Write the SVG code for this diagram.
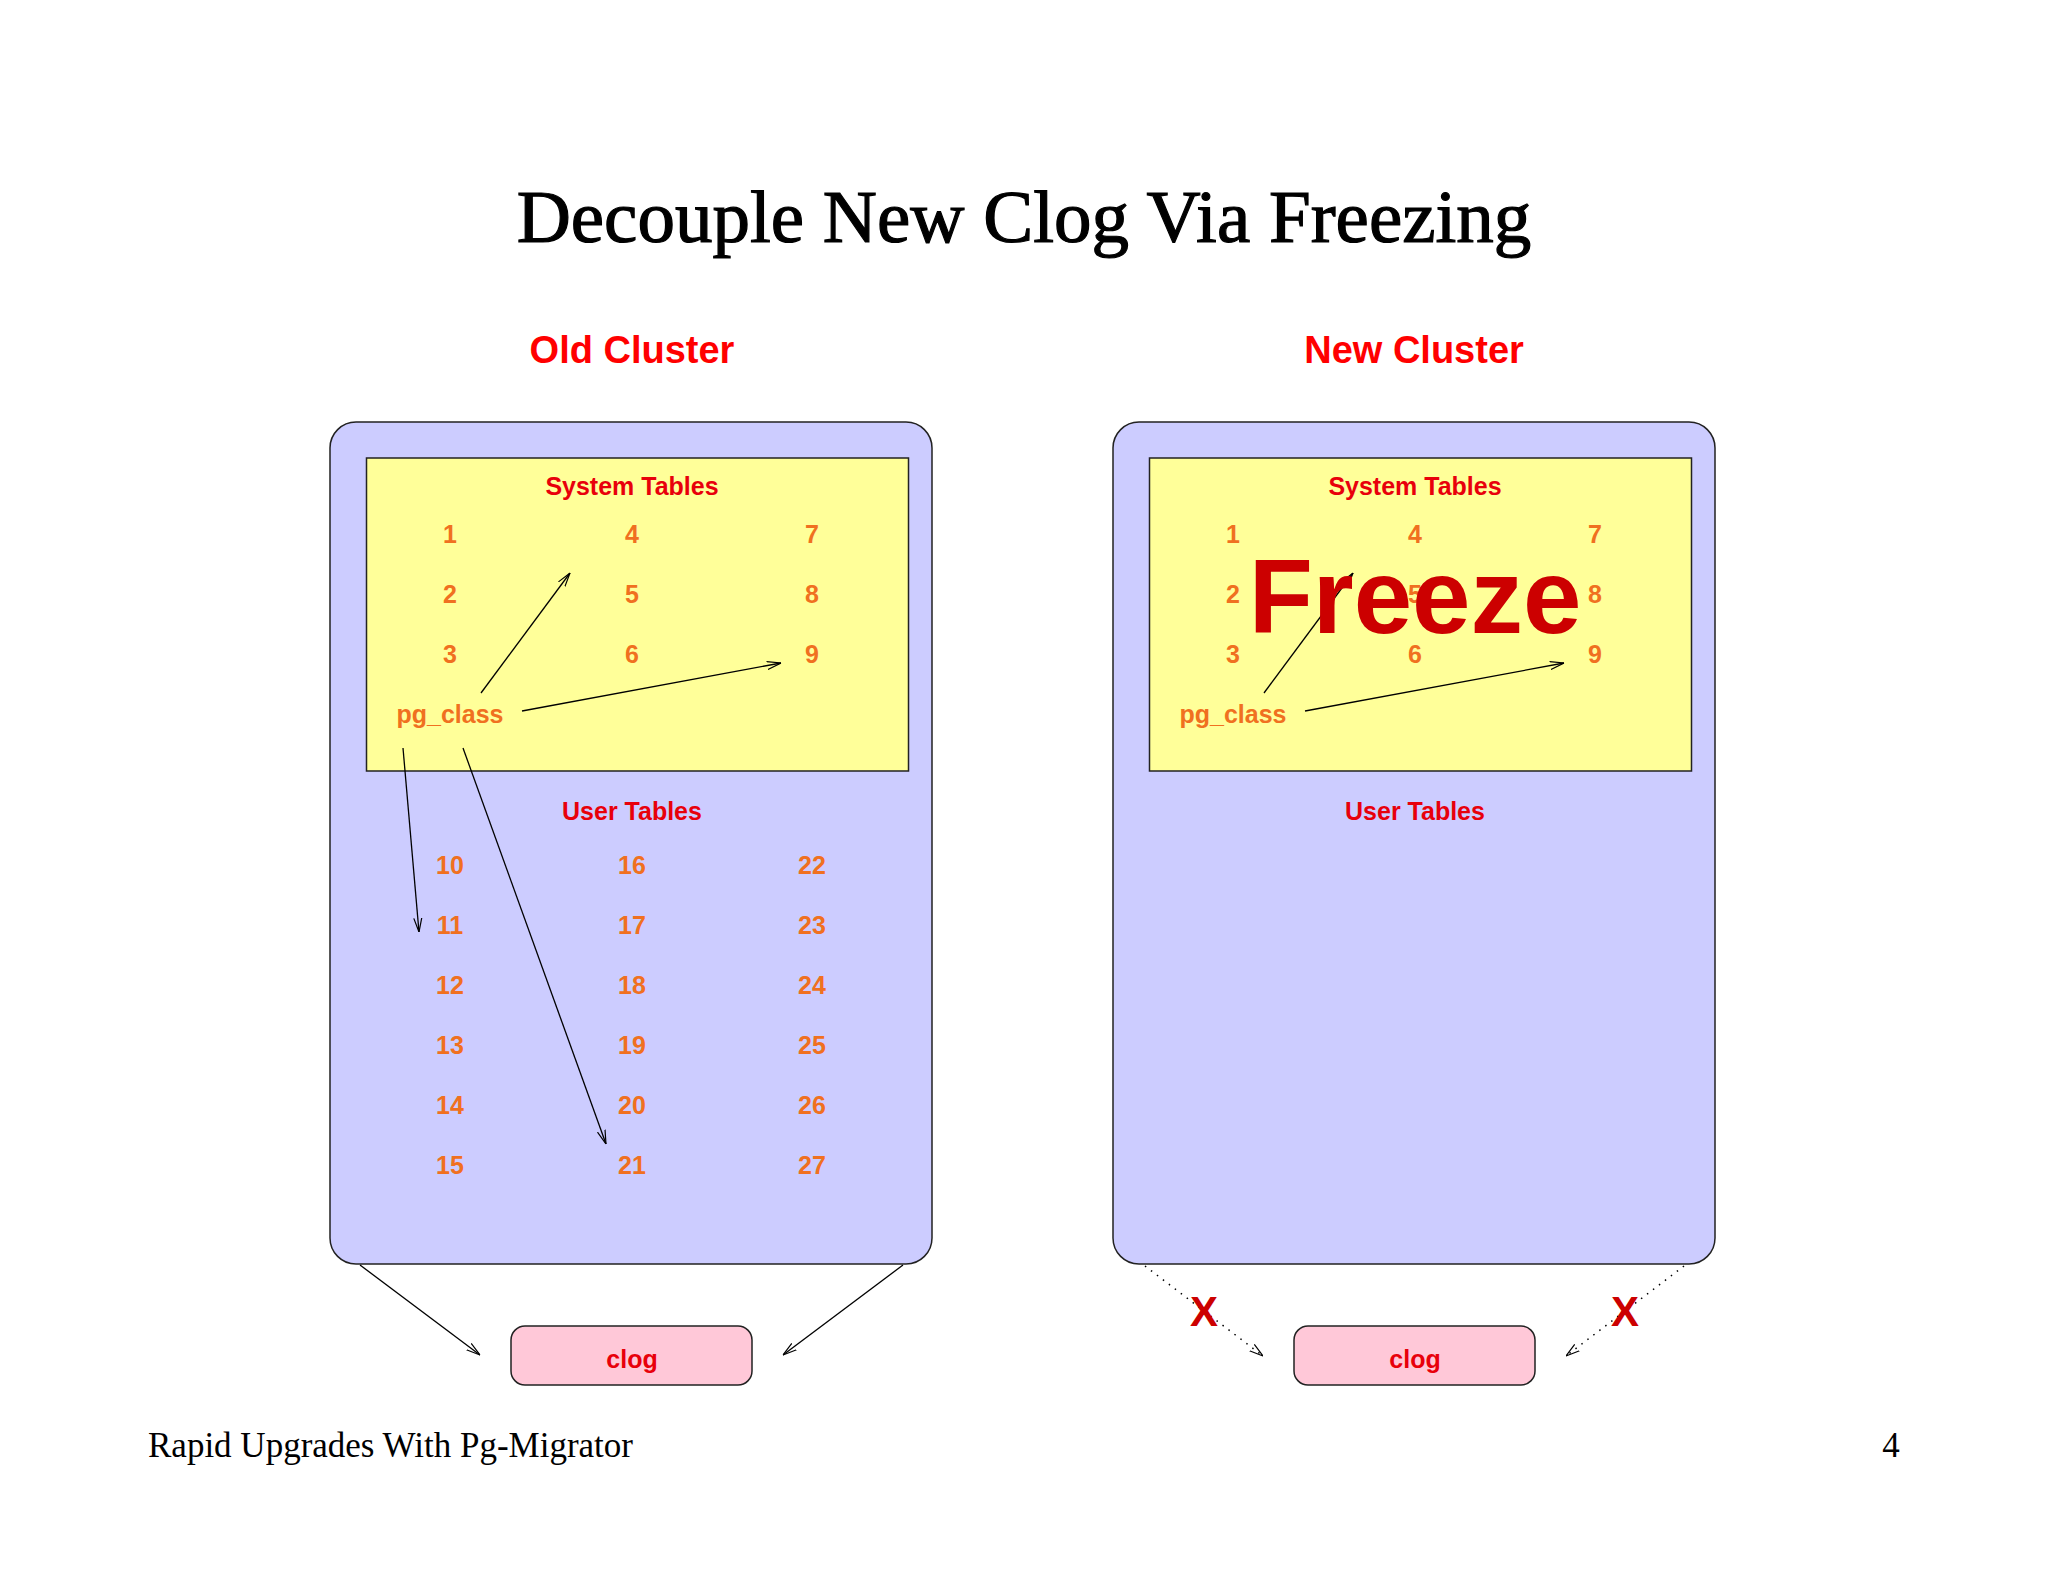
<svg xmlns="http://www.w3.org/2000/svg" width="2048" height="1582" viewBox="0 0 2048 1582">
<style>
.title{font-family:"Liberation Serif",serif;font-size:75px;fill:#000;stroke:#000;stroke-width:1.2;text-anchor:middle}
.foot{font-family:"Liberation Serif",serif;font-size:35px;fill:#000}
.cl{font-family:"Liberation Sans",Arial,sans-serif;font-weight:bold;font-size:38px;fill:#f00;text-anchor:middle}
.hd{font-family:"Liberation Sans",Arial,sans-serif;font-weight:bold;font-size:25px;fill:#e8000b;text-anchor:middle}
.n{font-family:"Liberation Sans",Arial,sans-serif;font-weight:bold;font-size:25px;fill:#f07020;text-anchor:middle}
.outer{fill:#ccccff;stroke:#222;stroke-width:1.5}
.sys{fill:#ffff99;stroke:#222;stroke-width:1.5}
.clog{fill:#ffc8d8;stroke:#222;stroke-width:1.5}
.ln{stroke:#000;stroke-width:1.3;fill:none}
.dot{stroke:#000;stroke-width:1.5;fill:none;stroke-dasharray:1.5,6}
.big{font-family:"Liberation Sans",Arial,sans-serif;font-weight:bold;fill:#cc0000;text-anchor:middle}
</style>
<defs>
<marker id="ah" viewBox="0 0 14 10" refX="14" refY="5" markerWidth="14" markerHeight="10" markerUnits="userSpaceOnUse" orient="auto">
<path d="M0,1 L14,5 L0,9" fill="none" stroke="#000" stroke-width="1.2"/>
</marker>
</defs>
<rect width="2048" height="1582" fill="#fff"/>
<text class="title" x="1024" y="242">Decouple New Clog Via Freezing</text>
<text class="cl" x="632" y="363">Old Cluster</text>
<text class="cl" x="1414" y="363">New Cluster</text>

<g id="old-cluster">
<rect class="outer" x="330" y="422" width="602" height="842" rx="26"/>
<g id="old-system">
<rect class="sys" x="366.5" y="458" width="542" height="313"/>
<text class="hd" x="632" y="495">System Tables</text>
<text class="n" x="450" y="543">1</text><text class="n" x="632" y="543">4</text><text class="n" x="812" y="543">7</text>
<text class="n" x="450" y="603">2</text><text class="n" x="632" y="603">5</text><text class="n" x="812" y="603">8</text>
<text class="n" x="450" y="663">3</text><text class="n" x="632" y="663">6</text><text class="n" x="812" y="663">9</text>
<text class="n" x="450" y="723">pg_class</text>
</g>
<g id="old-user">
<text class="hd" x="632" y="820">User Tables</text>
<text class="n" x="450" y="874">10</text><text class="n" x="632" y="874">16</text><text class="n" x="812" y="874">22</text>
<text class="n" x="450" y="934">11</text><text class="n" x="632" y="934">17</text><text class="n" x="812" y="934">23</text>
<text class="n" x="450" y="994">12</text><text class="n" x="632" y="994">18</text><text class="n" x="812" y="994">24</text>
<text class="n" x="450" y="1054">13</text><text class="n" x="632" y="1054">19</text><text class="n" x="812" y="1054">25</text>
<text class="n" x="450" y="1114">14</text><text class="n" x="632" y="1114">20</text><text class="n" x="812" y="1114">26</text>
<text class="n" x="450" y="1174">15</text><text class="n" x="632" y="1174">21</text><text class="n" x="812" y="1174">27</text>
</g>
</g>

<g id="new-cluster">
<rect class="outer" x="1113" y="422" width="602" height="842" rx="26"/>
<g id="new-system">
<rect class="sys" x="1149.5" y="458" width="542" height="313"/>
<text class="hd" x="1415" y="495">System Tables</text>
<text class="n" x="1233" y="543">1</text><text class="n" x="1415" y="543">4</text><text class="n" x="1595" y="543">7</text>
<text class="n" x="1233" y="603">2</text><text class="n" x="1415" y="603">5</text><text class="n" x="1595" y="603">8</text>
<text class="n" x="1233" y="663">3</text><text class="n" x="1415" y="663">6</text><text class="n" x="1595" y="663">9</text>
<text class="n" x="1233" y="723">pg_class</text>
</g>
<g id="new-user">
<text class="hd" x="1415" y="820">User Tables</text>
</g>
</g>

<g id="old-clog">
<rect class="clog" x="511" y="1326" width="241" height="59" rx="14"/>
<text class="hd" x="632" y="1368">clog</text>
</g>
<g id="new-clog">
<rect class="clog" x="1294" y="1326" width="241" height="59" rx="14"/>
<text class="hd" x="1415" y="1368">clog</text>
</g>

<g id="connectors">
<line class="ln" x1="481" y1="693" x2="570" y2="573" marker-end="url(#ah)"/>
<line class="ln" x1="522" y1="711" x2="781" y2="663" marker-end="url(#ah)"/>
<line class="ln" x1="403" y1="748" x2="419" y2="932" marker-end="url(#ah)"/>
<line class="ln" x1="463" y1="748" x2="606" y2="1144" marker-end="url(#ah)"/>
<line class="ln" x1="1264" y1="693" x2="1353" y2="573" marker-end="url(#ah)"/>
<line class="ln" x1="1305" y1="711" x2="1564" y2="663" marker-end="url(#ah)"/>
<line class="ln" x1="360" y1="1265" x2="480" y2="1355" marker-end="url(#ah)"/>
<line class="ln" x1="903" y1="1265" x2="783" y2="1355" marker-end="url(#ah)"/>
<line class="dot" x1="1145" y1="1266" x2="1263" y2="1356" marker-end="url(#ah)"/>
<line class="dot" x1="1684" y1="1266" x2="1566" y2="1356" marker-end="url(#ah)"/>
</g>

<text class="big" x="1415" y="633" font-size="105">Freeze</text>
<text class="big" x="1204" y="1326" font-size="42">X</text>
<text class="big" x="1625" y="1326" font-size="42">X</text>

<text class="foot" x="148" y="1457">Rapid Upgrades With Pg-Migrator</text>
<text class="foot" x="1891" y="1457" text-anchor="middle">4</text>
</svg>
